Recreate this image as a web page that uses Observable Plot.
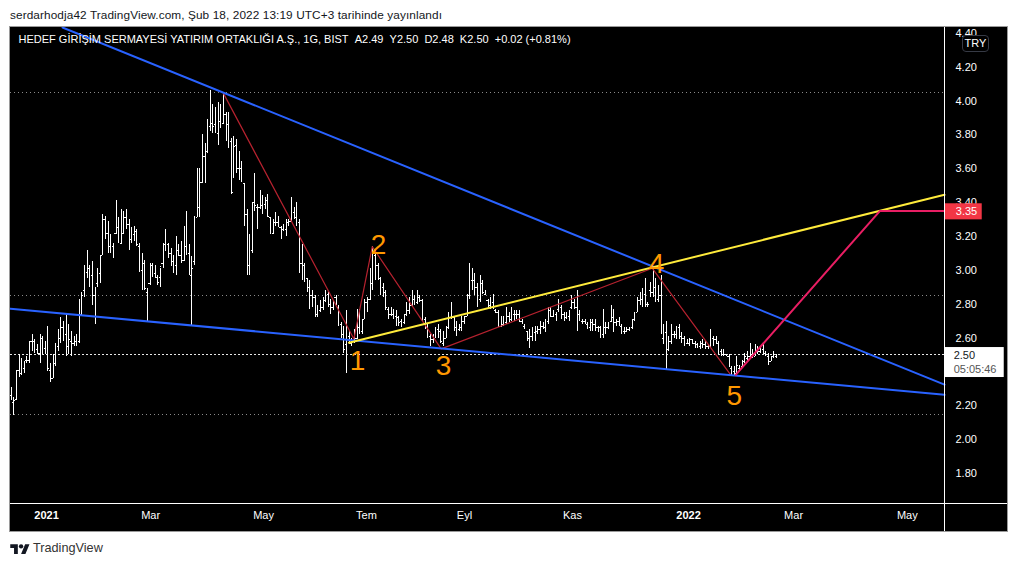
<!DOCTYPE html>
<html>
<head>
<meta charset="utf-8">
<script src="https://cdn.jsdelivr.net/npm/d3@7"></script>
<script src="https://cdn.jsdelivr.net/npm/@observablehq/plot@0.6"></script>
<style>
html,body{margin:0;padding:0;background:#fff;width:1017px;height:566px;overflow:hidden;font-family:"Liberation Sans",sans-serif}
#pub{position:absolute;left:10px;top:8px;font-size:11.8px;color:#131722;white-space:pre;letter-spacing:.1px}
#chart{position:absolute;left:10px;top:27px;width:997px;height:504px;outline:1px solid #9a9a9a}
#chart svg{display:block}
#cur{position:absolute;left:962px;top:35px;width:25px;height:15px;border:1px solid #363a45;border-radius:4px;color:#fff;font-size:11px;line-height:15px;text-align:center;background:#000}
#foot{position:absolute;left:10px;top:541px;display:flex;align-items:center;gap:3px;color:#333;font-size:12.7px}
</style>
</head>
<body>
<div id="pub">serdarhodja42 TradingView.com, Şub 18, 2022 13:19 UTC+3 tarihinde yayınlandı</div>
<div id="chart"></div>
<div id="cur">TRY</div>
<div id="foot"><svg width="20" height="13" viewBox="0 0 36 24"><path fill="#131722" d="M14 22H7V11H0V4h14v18zM28 22h-8l7.5-18h8L28 22z"/><circle fill="#131722" cx="20" cy="8" r="4"/></svg><span>TradingView</span></div>
<script>
const highs = [
2.31,2.25,2.41,2.50,2.48,2.46,2.49,2.58,2.62,2.59,
2.56,2.62,2.61,2.58,2.67,2.45,2.50,2.57,2.65,2.72,
2.70,2.74,2.68,2.64,2.61,2.62,2.83,2.87,3.03,3.12,
3.03,3.05,2.90,3.01,3.09,3.33,3.32,3.29,3.21,3.16,
3.41,3.31,3.36,3.35,3.36,3.30,3.25,3.26,3.24,3.16,
3.10,3.06,2.89,3.04,3.04,3.03,2.97,3.01,3.16,3.24,
3.16,3.13,3.09,3.20,3.15,3.17,3.26,3.35,3.15,3.08,
3.32,3.60,3.60,3.80,3.75,3.89,4.06,3.98,3.96,3.99,
3.98,4.05,3.93,3.93,3.78,3.79,3.77,3.70,3.64,3.51,
3.36,3.21,3.40,3.57,3.39,3.47,3.44,3.43,3.45,3.31,
3.30,3.34,3.32,3.26,3.27,3.30,3.30,3.43,3.37,3.40,
3.30,3.15,3.04,2.95,2.94,2.88,2.85,2.79,2.82,2.84,
2.88,2.87,2.83,2.82,2.85,2.79,2.69,2.67,2.76,2.64,
2.60,2.65,2.77,2.77,2.71,2.83,2.84,3.01,3.14,3.12,
3.04,2.96,2.92,2.88,2.78,2.78,2.77,2.76,2.73,2.71,
2.74,2.81,2.84,2.88,2.85,2.88,2.85,2.83,2.72,2.68,
2.62,2.62,2.66,2.68,2.65,2.64,2.67,2.75,2.81,2.73,
2.70,2.68,2.73,2.73,2.86,3.04,3.01,2.98,2.92,2.97,
2.94,2.88,2.83,2.84,2.86,2.77,2.76,2.73,2.73,2.78,
2.75,2.78,2.76,2.76,2.76,2.71,2.68,2.64,2.65,2.66,
2.67,2.67,2.70,2.69,2.71,2.78,2.78,2.76,2.75,2.83,
2.79,2.75,2.75,2.76,2.85,2.83,2.88,2.76,2.71,2.71,
2.69,2.71,2.71,2.71,2.67,2.67,2.77,2.69,2.69,2.79,
2.77,2.71,2.72,2.68,2.66,2.66,2.66,2.71,2.75,2.84,
2.87,2.89,2.95,2.81,2.93,3.01,2.95,2.91,2.97,2.68,
2.70,2.61,2.68,2.64,2.67,2.68,2.63,2.61,2.59,2.60,
2.59,2.58,2.57,2.58,2.59,2.58,2.56,2.65,2.61,2.61,
2.58,2.53,2.53,2.50,2.50,2.43,2.43,2.49,2.44,2.47,
2.51,2.52,2.57,2.53,2.56,2.55,2.55,2.56,2.52,2.51,
2.49,2.52,2.50];
const lows = [
2.23,2.14,2.23,2.37,2.38,2.39,2.45,2.45,2.52,2.51,
2.50,2.45,2.50,2.50,2.40,2.34,2.36,2.43,2.52,2.57,
2.58,2.49,2.50,2.49,2.55,2.55,2.57,2.73,2.84,2.95,
2.90,2.79,2.68,2.90,2.92,3.09,3.18,3.10,3.10,3.07,
3.21,3.16,3.15,3.21,3.24,3.12,3.16,3.17,3.14,2.99,
2.88,2.88,2.70,2.91,2.96,2.95,2.91,2.90,3.01,3.11,
3.07,3.02,2.98,2.97,3.08,3.04,3.05,3.09,2.97,2.67,
3.03,3.31,3.31,3.51,3.51,3.69,3.82,3.81,3.81,3.74,
3.84,3.86,3.76,3.72,3.45,3.54,3.57,3.53,3.52,3.26,
2.97,2.97,3.10,3.35,3.24,3.36,3.33,3.36,3.31,3.21,
3.21,3.26,3.26,3.18,3.23,3.20,3.26,3.29,3.30,3.26,
2.98,2.94,2.93,2.87,2.77,2.78,2.72,2.72,2.75,2.76,
2.81,2.78,2.74,2.76,2.79,2.67,2.60,2.51,2.39,2.56,
2.55,2.57,2.59,2.62,2.62,2.71,2.75,2.82,2.88,2.94,
2.94,2.85,2.84,2.76,2.71,2.73,2.71,2.67,2.67,2.66,
2.68,2.73,2.74,2.78,2.79,2.80,2.81,2.70,2.65,2.60,
2.55,2.57,2.60,2.60,2.57,2.55,2.60,2.65,2.71,2.64,
2.61,2.64,2.64,2.68,2.73,2.83,2.88,2.85,2.78,2.81,
2.86,2.85,2.77,2.77,2.77,2.75,2.66,2.66,2.67,2.68,
2.69,2.70,2.70,2.71,2.69,2.68,2.65,2.58,2.54,2.58,
2.58,2.62,2.62,2.65,2.63,2.68,2.72,2.72,2.70,2.75,
2.71,2.70,2.71,2.70,2.77,2.77,2.64,2.70,2.68,2.68,
2.65,2.64,2.64,2.64,2.63,2.60,2.60,2.62,2.65,2.69,
2.63,2.67,2.67,2.62,2.62,2.63,2.64,2.65,2.70,2.75,
2.79,2.78,2.78,2.78,2.84,2.84,2.81,2.81,2.62,2.56,
2.41,2.52,2.56,2.60,2.59,2.59,2.57,2.55,2.56,2.55,
2.56,2.54,2.54,2.53,2.54,2.53,2.53,2.54,2.55,2.56,
2.50,2.49,2.49,2.49,2.43,2.38,2.38,2.38,2.41,2.42,
2.45,2.47,2.48,2.48,2.49,2.50,2.51,2.51,2.49,2.44,
2.46,2.48,2.48];
const opens = [
2.26,2.22,2.24,2.41,2.39,2.42,2.47,2.47,2.58,2.58,
2.53,2.51,2.60,2.54,2.50,2.41,2.36,2.45,2.55,2.60,
2.66,2.62,2.55,2.58,2.57,2.58,2.58,2.74,2.88,2.99,
3.01,2.97,2.85,2.92,2.98,3.09,3.30,3.22,3.14,3.14,
3.22,3.25,3.16,3.22,3.31,3.27,3.18,3.21,3.23,3.14,
3.00,3.04,2.87,2.92,3.03,2.98,2.96,2.96,3.04,3.15,
3.15,3.10,3.05,3.03,3.12,3.09,3.06,3.14,3.10,2.97,
3.05,3.31,3.37,3.52,3.67,3.70,3.85,3.87,3.86,3.81,
3.88,3.87,3.92,3.86,3.76,3.46,3.74,3.60,3.60,3.51,
3.33,3.03,3.12,3.40,3.37,3.37,3.38,3.39,3.41,3.31,
3.22,3.28,3.28,3.25,3.24,3.24,3.28,3.29,3.34,3.31,
3.28,3.04,3.03,2.95,2.90,2.85,2.84,2.74,2.76,2.78,
2.82,2.86,2.80,2.78,2.84,2.78,2.68,2.62,2.56,2.61,
2.57,2.58,2.60,2.66,2.64,2.71,2.81,2.83,2.92,3.09,
3.03,2.95,2.90,2.87,2.77,2.74,2.74,2.73,2.72,2.70,
2.69,2.74,2.76,2.79,2.83,2.81,2.84,2.82,2.71,2.66,
2.61,2.59,2.60,2.65,2.64,2.57,2.60,2.66,2.72,2.72,
2.66,2.65,2.66,2.70,2.73,2.85,2.94,2.94,2.90,2.83,
2.92,2.86,2.82,2.79,2.81,2.76,2.75,2.67,2.68,2.69,
2.73,2.71,2.74,2.74,2.74,2.70,2.67,2.64,2.60,2.61,
2.63,2.64,2.65,2.67,2.66,2.70,2.76,2.73,2.74,2.77,
2.78,2.74,2.72,2.73,2.78,2.81,2.78,2.74,2.70,2.70,
2.68,2.66,2.69,2.68,2.66,2.66,2.62,2.66,2.66,2.70,
2.72,2.69,2.70,2.67,2.64,2.64,2.65,2.66,2.71,2.75,
2.82,2.83,2.86,2.80,2.88,2.87,2.90,2.83,2.85,2.60,
2.63,2.53,2.58,2.62,2.62,2.66,2.61,2.60,2.57,2.57,
2.59,2.57,2.56,2.55,2.57,2.56,2.55,2.55,2.60,2.59,
2.57,2.52,2.50,2.50,2.49,2.42,2.40,2.39,2.42,2.43,
2.46,2.48,2.49,2.50,2.49,2.52,2.52,2.53,2.51,2.49,
2.46,2.49,2.49];
const closes = [
2.24,2.23,2.40,2.38,2.44,2.45,2.47,2.58,2.54,2.53,
2.52,2.60,2.54,2.52,2.42,2.36,2.44,2.55,2.60,2.66,
2.62,2.55,2.59,2.57,2.58,2.58,2.77,2.85,2.99,3.04,
2.96,2.86,2.83,2.99,3.08,3.30,3.22,3.13,3.15,3.10,
3.25,3.17,3.34,3.31,3.27,3.18,3.21,3.24,3.15,3.00,
3.04,2.89,2.85,3.03,2.98,2.97,2.93,3.02,3.15,3.20,
3.12,3.04,3.04,3.12,3.09,3.06,3.14,3.12,3.00,3.01,
3.31,3.37,3.52,3.67,3.70,3.88,3.88,3.85,3.82,3.88,
3.86,3.98,3.86,3.76,3.47,3.73,3.60,3.61,3.53,3.30,
3.03,3.12,3.40,3.38,3.37,3.38,3.39,3.41,3.32,3.22,
3.29,3.28,3.26,3.20,3.24,3.28,3.29,3.34,3.31,3.30,
3.04,3.03,2.96,2.90,2.85,2.84,2.74,2.76,2.78,2.82,
2.86,2.80,2.78,2.81,2.80,2.68,2.62,2.53,2.60,2.57,
2.58,2.60,2.66,2.64,2.70,2.81,2.83,2.92,3.09,3.06,
2.96,2.90,2.87,2.78,2.74,2.74,2.73,2.72,2.69,2.67,
2.73,2.76,2.79,2.83,2.81,2.84,2.82,2.71,2.66,2.61,
2.57,2.60,2.65,2.64,2.58,2.60,2.66,2.72,2.72,2.66,
2.64,2.66,2.70,2.72,2.85,2.94,2.93,2.90,2.84,2.92,
2.87,2.86,2.79,2.81,2.78,2.75,2.67,2.68,2.70,2.76,
2.71,2.76,2.73,2.74,2.71,2.69,2.66,2.60,2.61,2.63,
2.64,2.65,2.68,2.66,2.70,2.76,2.73,2.74,2.72,2.79,
2.74,2.72,2.73,2.76,2.81,2.78,2.74,2.71,2.69,2.69,
2.66,2.69,2.68,2.66,2.65,2.62,2.66,2.66,2.68,2.77,
2.69,2.70,2.69,2.64,2.64,2.65,2.65,2.71,2.74,2.81,
2.84,2.87,2.84,2.80,2.86,2.94,2.84,2.86,2.65,2.65,
2.57,2.58,2.62,2.61,2.66,2.61,2.60,2.57,2.57,2.59,
2.57,2.56,2.56,2.57,2.56,2.55,2.54,2.60,2.59,2.58,
2.52,2.51,2.50,2.50,2.43,2.39,2.40,2.44,2.43,2.46,
2.49,2.50,2.50,2.49,2.52,2.52,2.53,2.51,2.50,2.45,
2.48,2.50,2.50];

const priceTicks = [1.8,2.0,2.2,2.6,2.8,3.0,3.2,3.4,3.6,3.8,4.0,4.2,4.4];
const monthTicks = [53.2,96.3,173,214.2,298.6,342];
const monthNames = ["Mar","May","Eyl","Kas","Mar","May"];
const julyTick = [135.6];
const julyName = ["Tem"];
const yearTicks = [13.5,258.5];
const yearNames = ["2021","2022"];
const dottedLevels = [4.05,2.85,2.15];
const closeLevel = 2.50;

const upperBlue = [[19.6,4.434],[356.2,2.325]];
const lowerBlue = [[-0.27,2.773],[356.2,2.265]];
const yellowLine = [[128.9,2.572],[356.2,3.446]];
const waveLine = [[80.9,4.048],[130.8,2.595],[137.8,3.14],[164.1,2.536],[244.7,3.012],[274.6,2.383]];
const targetLine = [[276.5,2.383],[331.5,3.35],[356.2,3.35]];
const waveLabels = ["1","2","3","4","5"];
const waveLabelX = [132.2,140.2,165,246.3,276];
const waveLabelY = [2.467,3.147,2.432,3.04,2.26];

const bars = highs.map((h,i)=>({i,h,l:lows[i],o:opens[i],c:closes[i]}));
const XMIN=-0.27, XMAX=356.2, YMIN=1.623, YMAX=4.434;
const tagX = 359.7;
const rowFont = "Liberation Sans";
const crisp = {shapeRendering:"crispEdges"};

const plot = Plot.plot({
  width:997,height:504,marginLeft:0,marginRight:63,marginTop:0,marginBottom:28,
  style:{background:"#000",color:"#fff",fontFamily:rowFont,fontSize:"11px",overflow:"hidden"},
  x:{type:"linear",domain:[XMIN,XMAX],axis:null},
  y:{type:"linear",domain:[YMIN,YMAX],axis:null},
  marks:[
    Plot.axisY({anchor:"right",ticks:priceTicks,tickSize:0,tickPadding:11,tickFormat:d=>d.toFixed(2),label:null,fill:"#fff",fontSize:11}),
    Plot.axisX({ticks:monthTicks.concat(julyTick),tickSize:0,tickPadding:8,label:null,fill:"#fff",fontSize:11,
      tickFormat:d=>{const k=monthTicks.indexOf(d);return k>=0?monthNames[k]:julyName[0];}}),
    Plot.axisX({ticks:yearTicks,tickSize:0,tickPadding:8,label:null,fill:"#fff",fontSize:11,fontWeight:"bold",
      tickFormat:d=>yearNames[yearTicks.indexOf(d)]}),
    Plot.ruleY(dottedLevels,{x1:XMIN,x2:XMAX,stroke:"#8a8a8a",strokeWidth:1,strokeDasharray:"1,3",...crisp}),
    Plot.ruleY([closeLevel],{x1:XMIN,x2:XMAX,stroke:"#e8e8e8",strokeWidth:1,strokeDasharray:"2,2",...crisp}),
    Plot.ruleX(bars,{x:"i",y1:"l",y2:"h",stroke:"#fff",strokeWidth:1,...crisp}),
    Plot.ruleY(bars,{y:"o",x1:d=>d.i-0.45,x2:"i",stroke:"#fff",strokeWidth:1,...crisp}),
    Plot.ruleY(bars,{y:"c",x1:"i",x2:d=>d.i+0.45,stroke:"#fff",strokeWidth:1,...crisp}),
    Plot.line(waveLine,{x:"0",y:"1",stroke:"#b6222f",strokeWidth:1.2}),
    Plot.line(upperBlue,{x:"0",y:"1",stroke:"#2962ff",strokeWidth:2}),
    Plot.line(lowerBlue,{x:"0",y:"1",stroke:"#2962ff",strokeWidth:2}),
    Plot.line(yellowLine,{x:"0",y:"1",stroke:"#ffeb3b",strokeWidth:2}),
    Plot.line(targetLine,{x:"0",y:"1",stroke:"#e91e63",strokeWidth:2}),
    Plot.text(waveLabels,{x:(d,i)=>waveLabelX[i],y:(d,i)=>waveLabelY[i],text:d=>d,fill:"#ff9800",fontSize:28,fontFamily:rowFont}),
    Plot.text(["HEDEF GİRİŞİM SERMAYESİ YATIRIM ORTAKLIĞI A.Ş., 1G, BIST\u00a0\u00a0A2.49\u00a0\u00a0Y2.50\u00a0\u00a0D2.48\u00a0\u00a0K2.50\u00a0\u00a0+0.02 (+0.81%)"],
      {frameAnchor:"top-left",dx:8,dy:8,text:d=>d,fill:"#fff",fontSize:11,fontFamily:rowFont,textAnchor:"start"}),
    Plot.rect([0],{x1:XMAX,x2:370.6,y1:3.298,y2:3.393,fill:"#f23645"}),
    Plot.text(["3.35"],{x:tagX+0.8,y:3.35,text:d=>d,fill:"#fff",textAnchor:"start",fontSize:11}),
    Plot.rect([0],{x1:XMAX,x2:379,y1:2.367,y2:2.544,fill:"#fff"}),
    Plot.text(["2.50"],{x:tagX,y:2.50,text:d=>d,fill:"#131722",textAnchor:"start",fontSize:11}),
    Plot.text(["05:05:46"],{x:tagX,y:2.413,text:d=>d,fill:"#555",textAnchor:"start",fontSize:11}),
    Plot.ruleX([XMAX],{y1:1.46,y2:YMAX,stroke:"#fff",strokeWidth:1,...crisp}),
    Plot.ruleY([YMIN],{x1:XMIN,x2:381,stroke:"#fff",strokeWidth:1,...crisp})
  ]
});
document.getElementById("chart").appendChild(plot);
</script>
</body>
</html>
